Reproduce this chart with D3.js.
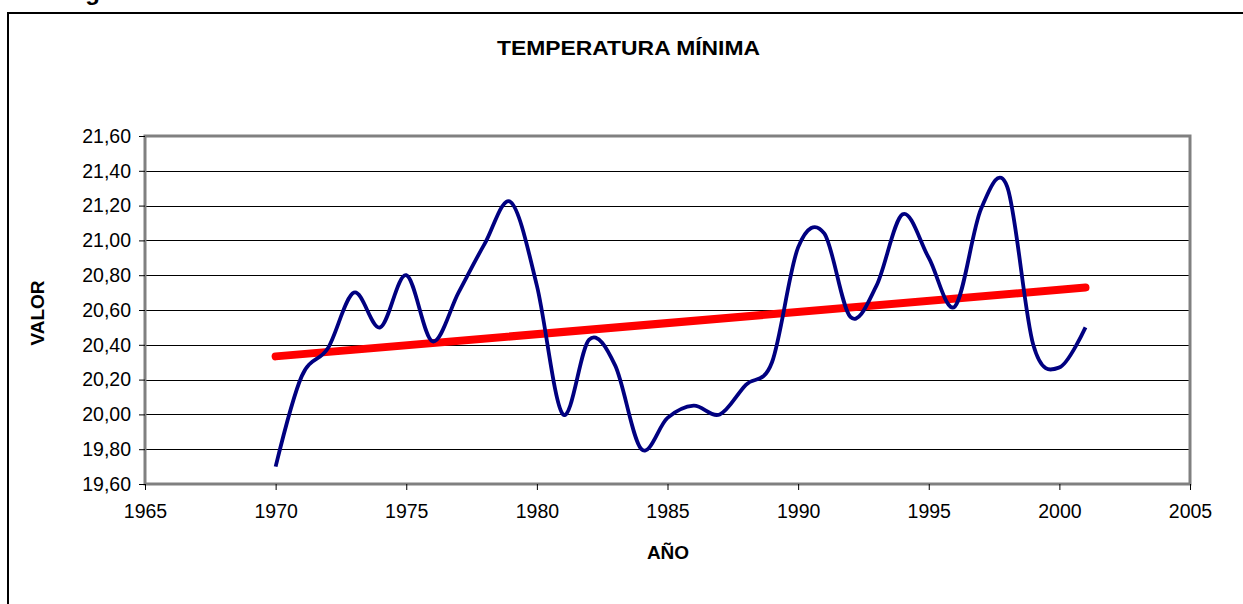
<!DOCTYPE html>
<html><head><meta charset="utf-8">
<script src="https://cdn.jsdelivr.net/npm/d3@7"></script>
<style>body{margin:0;background:#fff}svg{display:block}text{font-family:"Liberation Sans",Arial,sans-serif}</style>
</head><body>
<script>
const years = [1970,1971,1972,1973,1974,1975,1976,1977,1978,1979,1980,1981,1982,1983,1984,1985,1986,1987,1988,1989,1990,1991,1992,1993,1994,1995,1996,1997,1998,1999,2000,2001];
const values = [19.70,20.22,20.38,20.70,20.50,20.80,20.42,20.70,20.98,21.22,20.74,20.00,20.43,20.28,19.80,19.98,20.05,20.00,20.17,20.30,20.96,21.04,20.56,20.74,21.15,20.90,20.62,21.18,21.31,20.40,20.27,20.50];
const xTicks = [1965,1970,1975,1980,1985,1990,1995,2000,2005];
const yTicks = [19.6,19.8,20.0,20.2,20.4,20.6,20.8,21.0,21.2,21.4,21.6];
const title = "TEMPERATURA MÍNIMA";
const xLabel = "AÑO";
const yLabel = "VALOR";

const W = 1243, H = 604;
const svg = d3.select("body").append("svg").attr("width", W).attr("height", H);

// outer chart border
svg.append("rect").attr("x", 8).attr("y", 13).attr("width", W + 10).attr("height", H + 10)
  .attr("fill", "none").attr("stroke", "#000").attr("stroke-width", 2);
// cut-off caption at top
svg.append("text").attr("x", 64).attr("y", 0).attr("font-size", 24).attr("font-weight", "bold").text("Figura 6");

const L = 145, R = 1190, T = 136, B = 484;
const x = d3.scaleLinear().domain([1965, 2005]).range([L, R]);
const y = d3.scaleLinear().domain([19.6, 21.6]).range([B, T]);

// gridlines
svg.append("g").selectAll("line").data(yTicks.slice(1)).join("line")
  .attr("x1", L).attr("x2", R).attr("y1", d => Math.round(y(d)) + 0.5).attr("y2", d => Math.round(y(d)) + 0.5)
  .attr("stroke", "#000").attr("stroke-width", 1);

// plot border (gray)
svg.append("rect").attr("x", L).attr("y", T).attr("width", R - L).attr("height", B - T)
  .attr("fill", "none").attr("stroke", "#808080").attr("stroke-width", 3);

// axes
const font = '"Liberation Sans",Arial,sans-serif';
const yAxis = d3.axisLeft(y).tickValues(yTicks).tickSize(6).tickPadding(8)
  .tickFormat(d => d3.format(".2f")(d).replace(".", ","));
const gy = svg.append("g").attr("transform", `translate(${L},0)`).call(yAxis);
gy.select(".domain").remove();
gy.selectAll("text").attr("font-size", 19.5).attr("fill", "#000").style("font-family", font);

const xAxis = d3.axisBottom(x).tickValues(xTicks).tickSize(6).tickPadding(14).tickFormat(d3.format("d"));
const gx = svg.append("g").attr("transform", `translate(0,${B})`).call(xAxis);
gx.select(".domain").remove();
gx.selectAll("text").attr("font-size", 19.5).attr("fill", "#000").style("font-family", font);

// trend line (least squares)
const n = years.length;
const mx = d3.mean(years), my = d3.mean(values);
const slope = d3.sum(years, (d, i) => (d - mx) * (values[i] - my)) / d3.sum(years, d => (d - mx) ** 2);
const trend = [years[0], years[n - 1]].map(t => [t, my + slope * (t - mx)]);
svg.append("path").datum(trend)
  .attr("d", d3.line().x(d => x(d[0])).y(d => y(d[1])))
  .attr("fill", "none").attr("stroke", "#ff0000").attr("stroke-width", 8).attr("stroke-linecap", "round");

// data line
const data = years.map((t, i) => [t, values[i]]);
svg.append("path").datum(data)
  .attr("d", d3.line().x(d => x(d[0])).y(d => y(d[1])).curve(d3.curveCardinal.tension(0)))
  .attr("fill", "none").attr("stroke", "#000080").attr("stroke-width", 3.8).attr("stroke-linejoin", "round");

// titles
svg.append("text").attr("x", 497).attr("y", 55)
  .attr("font-size", 21).attr("font-weight", "bold")
  .attr("textLength", 263).attr("lengthAdjust", "spacingAndGlyphs").text(title);
svg.append("text").attr("x", 668).attr("y", 559).attr("text-anchor", "middle")
  .attr("font-size", 19).attr("font-weight", "bold").text(xLabel);
svg.append("text").attr("transform", "translate(44,313) rotate(-90)").attr("text-anchor", "middle")
  .attr("font-size", 19).attr("font-weight", "bold").text(yLabel);
</script>
</body></html>
